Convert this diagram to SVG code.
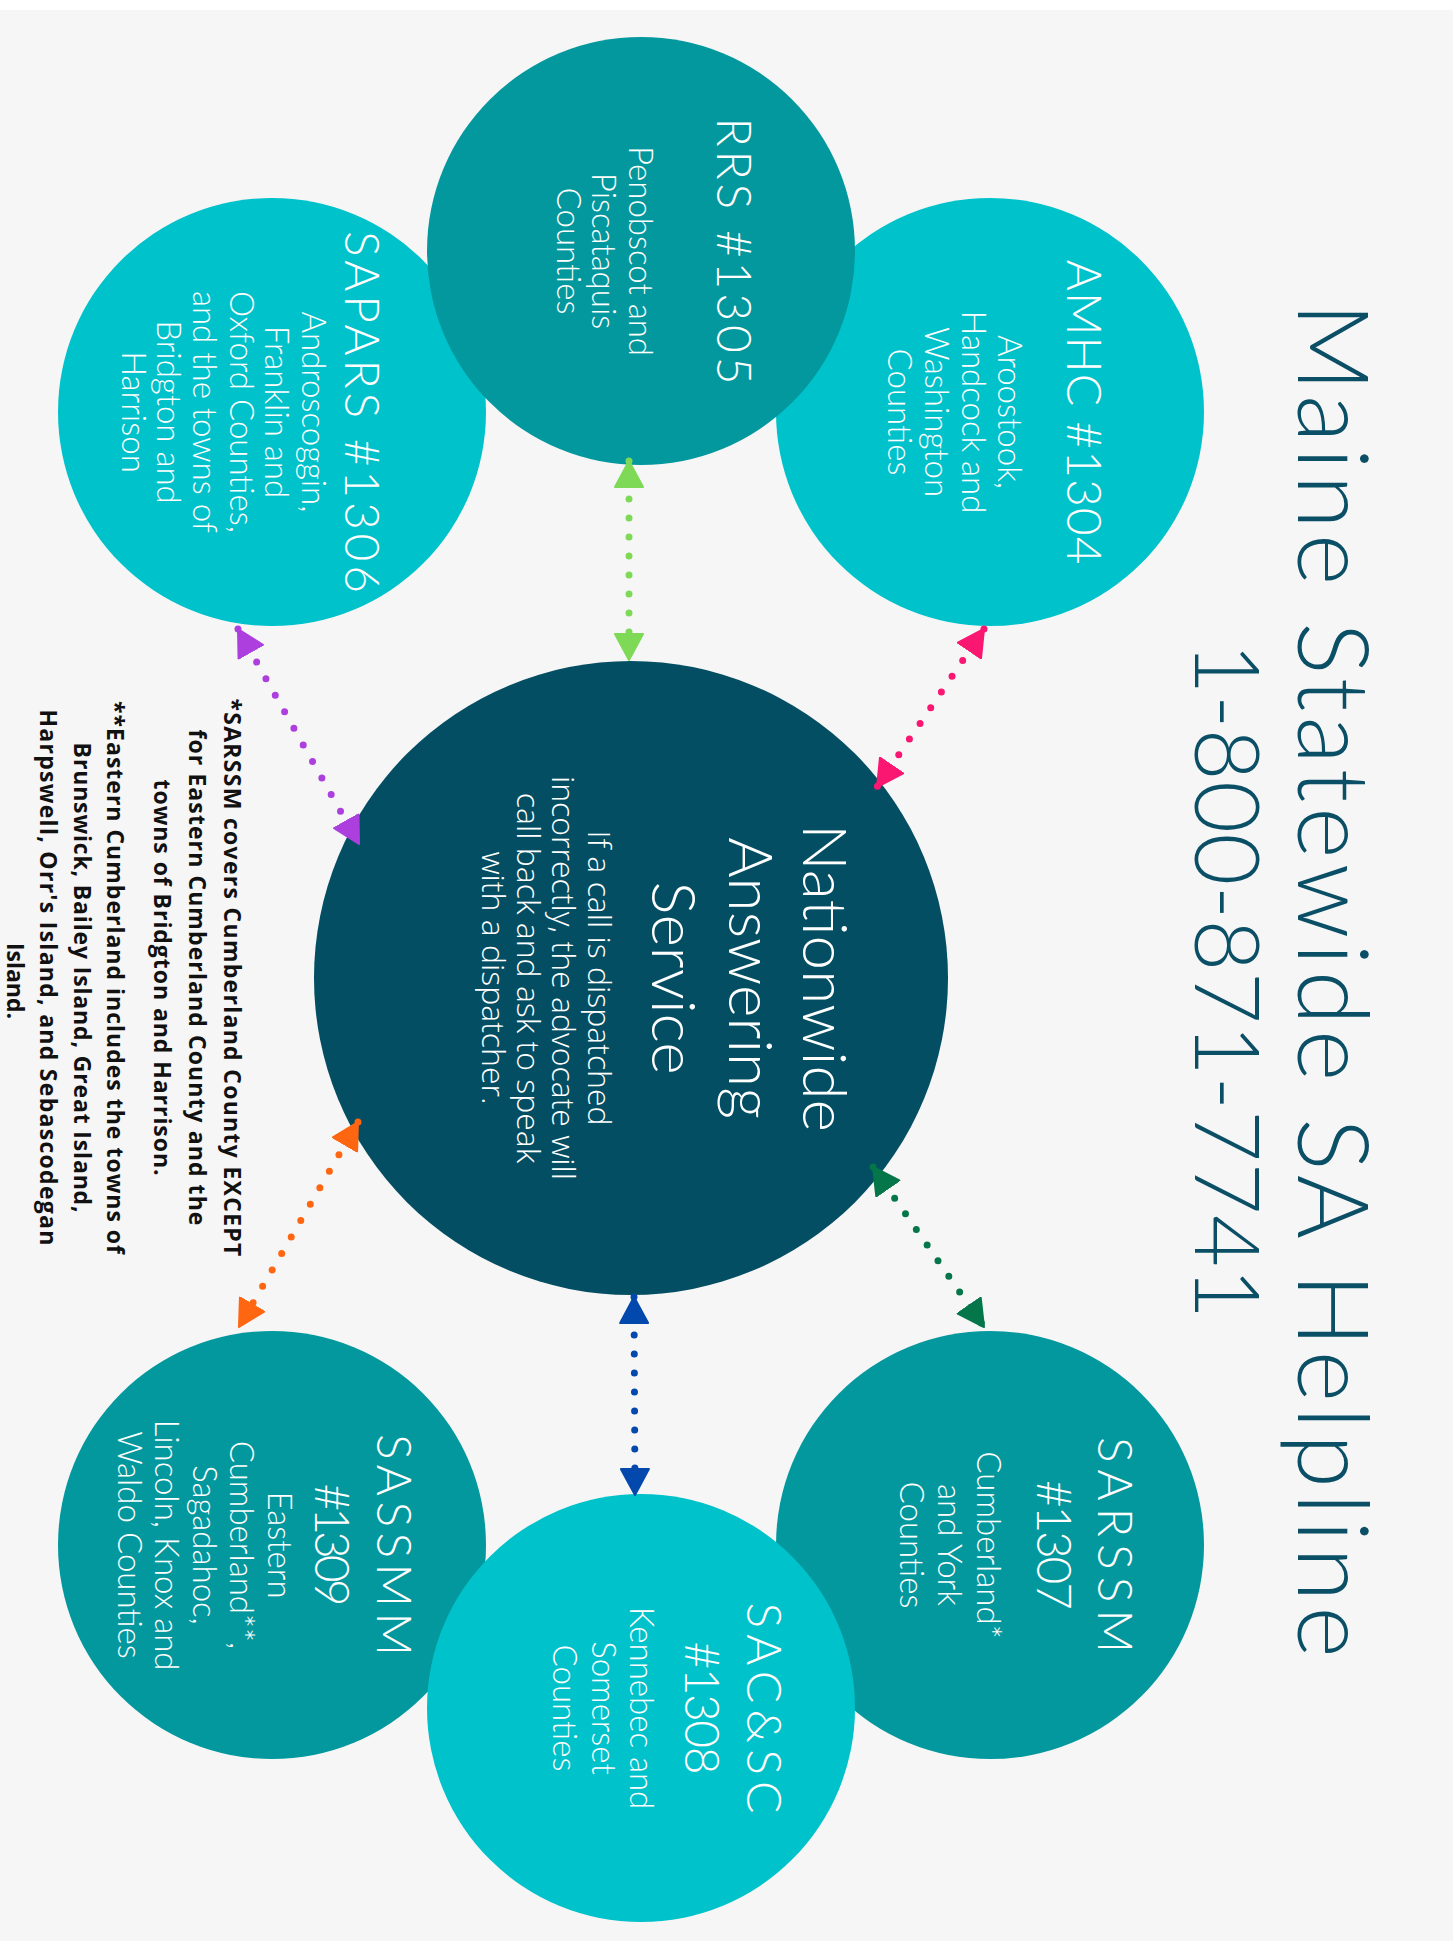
<svg xmlns="http://www.w3.org/2000/svg" width="1453" height="1941" viewBox="0 0 1453 1941">
  <defs>
    <style>
      .dark { fill: #03989e; }
      .cyan { fill: #00c2cb; }
      .core { fill: #034e63; }
      .head { font-family: Lato, "Open Sans", "Liberation Sans", sans-serif; font-weight: 300; fill: #ffffff; font-size: 48px; text-anchor: middle; }
      .sub  { font-family: Lato, "Open Sans", "Liberation Sans", sans-serif; font-weight: 300; fill: #ffffff; font-size: 33px; text-anchor: middle; }
      .big  { font-family: Lato, "Open Sans", "Liberation Sans", sans-serif; font-weight: 300; fill: #ffffff; font-size: 62px; text-anchor: middle; }
      .note { font-family: "Open Sans", "Liberation Sans", sans-serif; font-weight: 300; fill: #ffffff; font-size: 32px; text-anchor: middle; }
      .title { font-family: Lato, "Open Sans", "Liberation Sans", sans-serif; font-weight: 300; fill: #0b4f66; text-anchor: middle; }
      .foot { font-family: "Open Sans", "Liberation Sans", sans-serif; font-weight: 700; fill: #111111; font-size: 23px; text-anchor: middle; }
      .link { fill: none; stroke-width: 7; stroke-linecap: round; stroke-dasharray: 0 19; }
    </style>
    <marker id="ah-green" viewBox="0 0 28 30" refX="27" refY="15" markerWidth="28" markerHeight="30" markerUnits="userSpaceOnUse" orient="auto-start-reverse"><path d="M1,1 L27,15 L1,29 Z" fill="#7ed957" stroke="#7ed957" stroke-width="2" stroke-linejoin="round"/></marker>
    <marker id="ah-pink" viewBox="0 0 28 30" refX="27" refY="15" markerWidth="28" markerHeight="30" markerUnits="userSpaceOnUse" orient="auto-start-reverse"><path d="M1,1 L27,15 L1,29 Z" fill="#fa1772" stroke="#fa1772" stroke-width="2" stroke-linejoin="round"/></marker>
    <marker id="ah-purple" viewBox="0 0 28 30" refX="27" refY="15" markerWidth="28" markerHeight="30" markerUnits="userSpaceOnUse" orient="auto-start-reverse"><path d="M1,1 L27,15 L1,29 Z" fill="#ad3fdf" stroke="#ad3fdf" stroke-width="2" stroke-linejoin="round"/></marker>
    <marker id="ah-orange" viewBox="0 0 28 30" refX="27" refY="15" markerWidth="28" markerHeight="30" markerUnits="userSpaceOnUse" orient="auto-start-reverse"><path d="M1,1 L27,15 L1,29 Z" fill="#ff6612" stroke="#ff6612" stroke-width="2" stroke-linejoin="round"/></marker>
    <marker id="ah-forest" viewBox="0 0 28 30" refX="27" refY="15" markerWidth="28" markerHeight="30" markerUnits="userSpaceOnUse" orient="auto-start-reverse"><path d="M1,1 L27,15 L1,29 Z" fill="#04764a" stroke="#04764a" stroke-width="2" stroke-linejoin="round"/></marker>
    <marker id="ah-blue" viewBox="0 0 28 30" refX="27" refY="15" markerWidth="28" markerHeight="30" markerUnits="userSpaceOnUse" orient="auto-start-reverse"><path d="M1,1 L27,15 L1,29 Z" fill="#0349ad" stroke="#0349ad" stroke-width="2" stroke-linejoin="round"/></marker>
  </defs>

  <!-- page -->
  <rect x="0" y="0" width="1453" height="1941" fill="#f6f6f6"/>
  <rect x="0" y="0" width="1453" height="10" fill="#ffffff"/>

  <!-- agencies, upper row -->
  <g id="node-amhc">
    <circle class="cyan" cx="990" cy="412" r="214"/>
    <g transform="translate(990 412) rotate(90)">
      <text class="head" x="0" y="-77" textLength="305" lengthAdjust="spacing">AMHC #1304</text>
      <text class="sub"><tspan x="0" y="-8">Aroostook,</tspan><tspan x="0" y="28">Handcock and</tspan><tspan x="0" y="65">Washington</tspan><tspan x="0" y="102">Counties</tspan></text>
    </g>
  </g>
  <g id="node-sapars">
    <circle class="cyan" cx="272" cy="412" r="214"/>
    <g transform="translate(272 412) rotate(90)">
      <text class="head" x="0" y="-73" textLength="362" lengthAdjust="spacing">SAPARS #1306</text>
      <text class="sub"><tspan x="0" y="-30">Androscoggin,</tspan><tspan x="0" y="7">Franklin and</tspan><tspan x="0" y="42">Oxford Counties,</tspan><tspan x="0" y="79">and the towns of</tspan><tspan x="0" y="115">Bridgton and</tspan><tspan x="0" y="150">Harrison</tspan></text>
    </g>
  </g>
  <g id="node-rrs">
    <circle class="dark" cx="641" cy="251" r="214"/>
    <g transform="translate(641 251) rotate(90)">
      <text class="head" x="0" y="-76" textLength="267" lengthAdjust="spacing">RRS #1305</text>
      <text class="sub"><tspan x="0" y="12">Penobscot and</tspan><tspan x="0" y="49">Piscataquis</tspan><tspan x="0" y="84">Counties</tspan></text>
    </g>
  </g>

  <!-- agencies, lower row -->
  <g id="node-sarssm">
    <circle class="dark" cx="990" cy="1545" r="214"/>
    <g transform="translate(990 1545) rotate(90)">
      <text class="head" x="0" y="-108" textLength="216" lengthAdjust="spacing">SARSSM</text>
      <text class="head" x="0" y="-47" textLength="130" lengthAdjust="spacing">#1307</text>
      <text class="sub"><tspan x="0" y="13">Cumberland*</tspan><tspan x="0" y="52">and York</tspan><tspan x="0" y="90">Counties</tspan></text>
    </g>
  </g>
  <g id="node-sassmm">
    <circle class="dark" cx="272" cy="1545" r="214"/>
    <g transform="translate(272 1545) rotate(90)">
      <text class="head" x="0" y="-105" textLength="222" lengthAdjust="spacing">SASSMM</text>
      <text class="head" x="0" y="-43" textLength="123" lengthAdjust="spacing">#1309</text>
      <text class="sub"><tspan x="0" y="4">Eastern</tspan><tspan x="0" y="42">Cumberland**,</tspan><tspan x="0" y="79">Sagadahoc,</tspan><tspan x="0" y="117">Lincoln, Knox and</tspan><tspan x="0" y="154">Waldo Counties</tspan></text>
    </g>
  </g>
  <g id="node-sacsc">
    <circle class="cyan" cx="641" cy="1708" r="214"/>
    <g transform="translate(641 1708) rotate(90)">
      <text class="head" x="0" y="-106" textLength="211" lengthAdjust="spacing">SAC&amp;SC</text>
      <text class="head" x="0" y="-44" textLength="133" lengthAdjust="spacing">#1308</text>
      <text class="sub"><tspan x="0" y="11">Kennebec and</tspan><tspan x="0" y="49">Somerset</tspan><tspan x="0" y="88">Counties</tspan></text>
    </g>
  </g>

  <!-- hub -->
  <g id="node-nationwide">
    <circle class="core" cx="631" cy="978" r="317"/>
    <g transform="translate(631 978) rotate(90)">
      <text class="big"><tspan x="0" y="-172">Nationwide</tspan><tspan x="0" y="-98">Answering</tspan><tspan x="0" y="-21">Service</tspan></text>
      <text class="note"><tspan x="0" y="43">If a call is dispatched</tspan><tspan x="0" y="79">incorrectly, the advocate will</tspan><tspan x="0" y="114">call back and ask to speak</tspan><tspan x="0" y="149">with a dispatcher.</tspan></text>
    </g>
  </g>

  <!-- two-way dotted links -->
  <g id="connectors">
    <line class="link" x1="629" y1="461" x2="629" y2="660" stroke="#7ed957" marker-start="url(#ah-green)" marker-end="url(#ah-green)"/>
    <line class="link" x1="984" y1="629" x2="877" y2="787" stroke="#fa1772" marker-start="url(#ah-pink)" marker-end="url(#ah-pink)"/>
    <line class="link" x1="238" y1="629" x2="359" y2="844" stroke="#ad3fdf" marker-start="url(#ah-purple)" marker-end="url(#ah-purple)"/>
    <line class="link" x1="358" y1="1122" x2="239" y2="1327" stroke="#ff6612" marker-start="url(#ah-orange)" marker-end="url(#ah-orange)"/>
    <line class="link" x1="873" y1="1167" x2="984" y2="1327" stroke="#04764a" marker-start="url(#ah-forest)" marker-end="url(#ah-forest)"/>
    <line class="link" x1="634" y1="1297" x2="635" y2="1495" stroke="#0349ad" marker-start="url(#ah-blue)" marker-end="url(#ah-blue)"/>
  </g>

  <!-- heading -->
  <g id="heading">
    <g transform="translate(1298 980) rotate(90)">
      <text class="title" x="0" y="0" font-size="98" textLength="1355" lengthAdjust="spacing">Maine Statewide SA Helpline</text>
    </g>
    <g transform="translate(1195 981) rotate(90)">
      <text class="title" x="0" y="0" font-size="90" textLength="677" lengthAdjust="spacing">1-800-871-7741</text>
    </g>
  </g>

  <!-- footnotes -->
  <g id="footnotes" transform="translate(0 981) rotate(90)">
    <text class="foot">
      <tspan x="0" y="-224" textLength="558" lengthAdjust="spacing">*SARSSM covers Cumberland County EXCEPT</tspan>
      <tspan x="0" y="-189" textLength="496" lengthAdjust="spacing">for Eastern Cumberland County and the</tspan>
      <tspan x="0" y="-154" textLength="396" lengthAdjust="spacing">towns of Bridgton and Harrison.</tspan>
      <tspan x="0" y="-107" textLength="553" lengthAdjust="spacing">**Eastern Cumberland includes the towns of</tspan>
      <tspan x="0" y="-74" textLength="470" lengthAdjust="spacing">Brunswick, Bailey Island, Great Island,</tspan>
      <tspan x="0" y="-40" textLength="536" lengthAdjust="spacing">Harpswell, Orr's Island, and Sebascodegan</tspan>
      <tspan x="0" y="-7">Island.</tspan>
    </text>
  </g>
</svg>
